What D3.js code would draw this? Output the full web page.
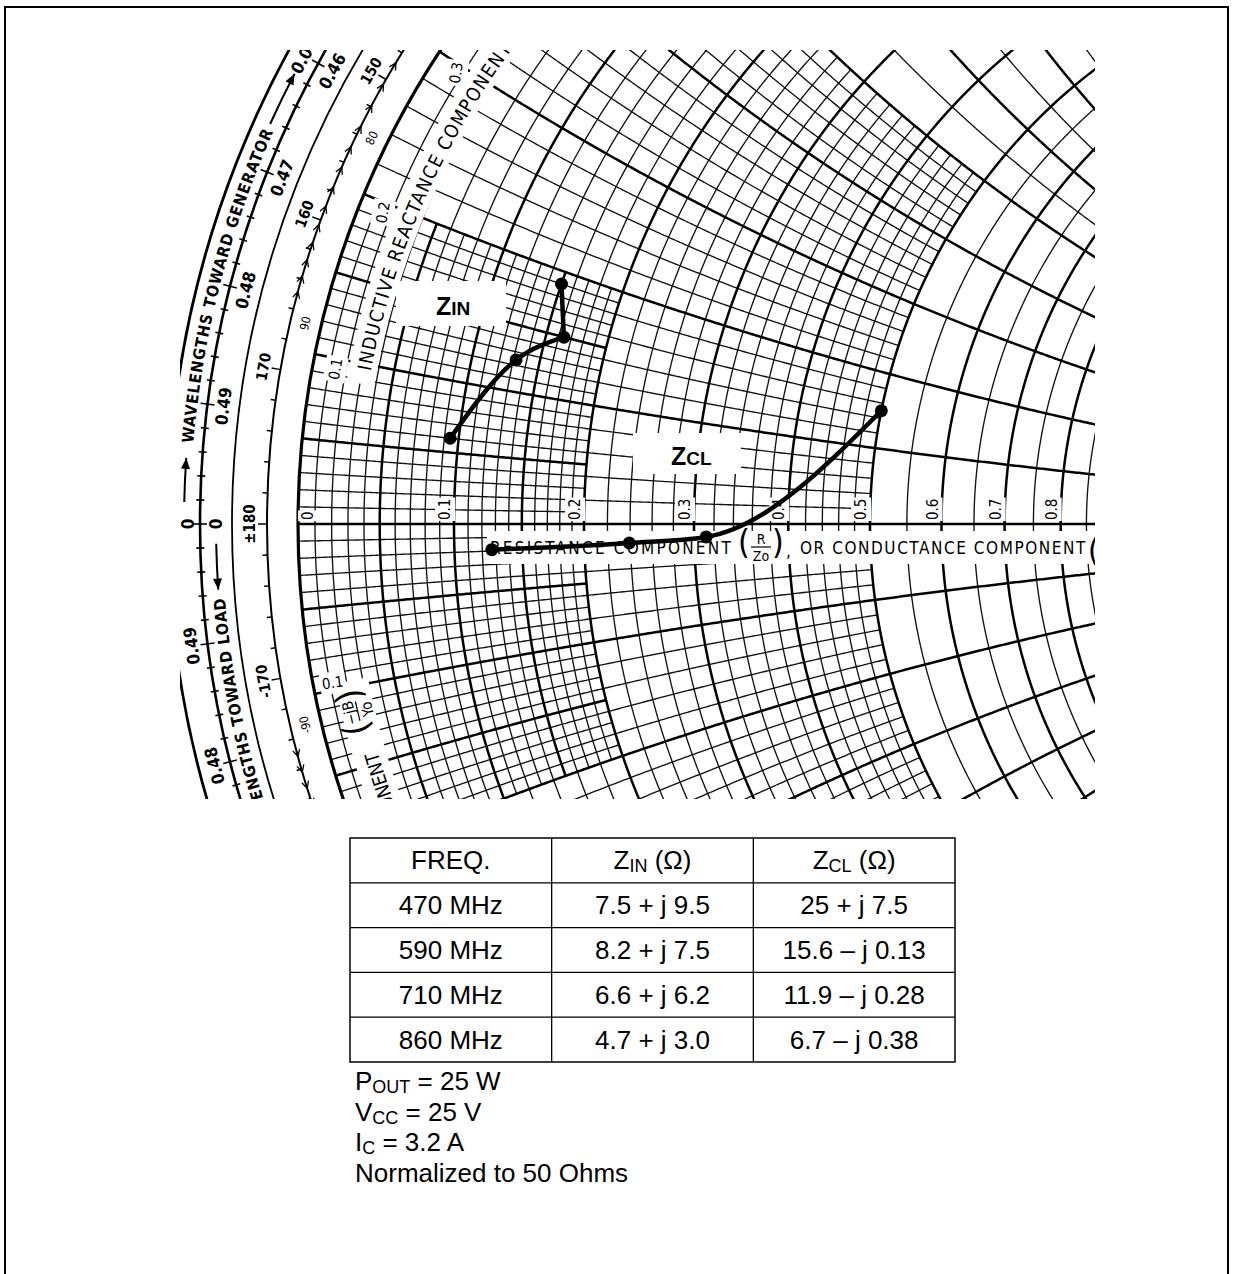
<!DOCTYPE html>
<html>
<head>
<meta charset="utf-8">
<title>Smith chart</title>
<script src="https://cdn.jsdelivr.net/npm/d3@7"></script>
<style>
  body { margin: 0; background: #fff; }
  svg { display: block; }
  .cond { font-family: "DejaVu Sans Condensed", "Liberation Sans Narrow", "DejaVu Sans", sans-serif; }
  .arial { font-family: "Liberation Sans", Arial, Helvetica, sans-serif; }
</style>
</head>
<body>
<script>
// table data
var freqs = ["470 MHz", "590 MHz", "710 MHz", "860 MHz"];
var zinText = ["7.5 + j 9.5", "8.2 + j 7.5", "6.6 + j 6.2", "4.7 + j 3.0"];
var zclText = ["25 + j 7.5", "15.6 \u2013 j 0.13", "11.9 \u2013 j 0.28", "6.7 \u2013 j 0.38"];

// points as plotted on the chart (normalized to 50 ohms)
var zinR = [0.15, 0.164, 0.132, 0.094];
var zinX = [0.19, 0.15, 0.124, 0.06];
var zclR = [0.5, 0.312, 0.239, 0.127];
var zclX = [0.15, -0.013, -0.017, -0.019];

// chart labels
var rAxisLabels = [0, 0.1, 0.2, 0.3, 0.4, 0.5, 0.6, 0.7, 0.8];
var xRimLabels = [0.1, 0.2, 0.3, -0.1];
var reflLabels = ["\u00b1180", "170", "160", "150", "-170", "-160"];
var reflAngles = [180, 170, 160, 150, -170, -160];
var transLabels = ["90", "80", "-90", "-80"];
var transAngles = [90, 80, -90, -80];
var loadLabels = ["0.49", "0.48", "0.47", "0.46"];
var loadWl = [0.49, 0.48, 0.47, 0.46];
var genLabels = ["0.04", "0.49", "0.48"];
var genWl = [0.04, 0.49, 0.48];

var notes = [["P", "OUT", " = 25 W"], ["V", "CC", " = 25 V"], ["I", "C", " = 3.2 A"], ["Normalized to 50 Ohms", "", ""]];

var W = 1233, H = 1274;
var CX = 1156, CY = 524, R = 858;
var R1 = 889, R2 = 924, R3 = 956, R4 = 988;

var svg = d3.select("body").append("svg").attr("width", W).attr("height", H);

// frame
svg.append("path")
    .attr("d", "M5,1274V7H1228V1274")
    .attr("fill", "none")
    .attr("stroke", "#000")
    .attr("stroke-width", 2);

var defs = svg.append("defs");
defs.append("clipPath").attr("id", "cc").append("rect")
    .attr("x", 180).attr("y", 50).attr("width", 915).attr("height", 749);

var chart = svg.append("g").attr("clip-path", "url(#cc)");

// reflection plane -> pixels
var gx = d3.scaleLinear().domain([-1, 1]).range([CX - R, CX + R]);
var gy = d3.scaleLinear().domain([-1, 1]).range([CY + R, CY - R]);
var line = d3.line().x(d => gx(d[0])).y(d => gy(d[1]));
var smooth = d3.line().x(d => gx(d[0])).y(d => gy(d[1])).curve(d3.curveMonotoneX);

function gamma(r, x) {
    var d = (r + 1) * (r + 1) + x * x;
    return [(r * r - 1 + x * x) / d, 2 * x / d];
}

// constant resistance arc between two reactances
function rArc(r, x1, x2) {
    var c = r / (1 + r), rho = 1 / (1 + r);
    var th = function (x) {
        var p = gamma(r, x);
        var t = Math.atan2(p[1], p[0] - c);
        return t < 0 ? t + 2 * Math.PI : t;
    };
    var t1 = x2 >= 1e5 ? 0 : th(x2);
    var t2 = x1 <= -1e5 ? 2 * Math.PI : th(x1);
    var n = Math.max(6, Math.ceil(rho * R * (t2 - t1) / 2));
    return d3.range(n + 1).map(function (k) {
        var t = t1 + (t2 - t1) * k / n;
        return [c + rho * Math.cos(t), rho * Math.sin(t)];
    });
}

// constant reactance arc between two resistances
function xArc(x, r1, r2) {
    var cy0 = 1 / x, rho = 1 / Math.abs(x);
    var p1 = gamma(r1, x), p2 = gamma(r2, x);
    var a1 = Math.atan2(p1[1] - cy0, p1[0] - 1);
    var a2 = Math.atan2(p2[1] - cy0, p2[0] - 1);
    var da = a2 - a1;
    if (da > Math.PI) da -= 2 * Math.PI;
    if (da < -Math.PI) da += 2 * Math.PI;
    var n = Math.max(6, Math.ceil(rho * R * Math.abs(da) / 2));
    return d3.range(n + 1).map(function (k) {
        var a = a1 + da * k / n;
        return [1 + rho * Math.cos(a), cy0 + rho * Math.sin(a)];
    });
}

// polar position at pixel radius, e = degrees above the left axis
function polar(rad, e) {
    var a = e * Math.PI / 180, rn = rad / R;
    return [gx(-rn * Math.cos(a)), gy(rn * Math.sin(a))];
}
function arcD(rad, e1, e2) {
    var p1 = polar(rad, e1), p2 = polar(rad, e2);
    var large = Math.abs(e2 - e1) > 180 ? 1 : 0;
    var sweep = e2 > e1 ? 1 : 0;
    return "M" + p1 + "A" + rad + "," + rad + " 0 " + large + " " + sweep + " " + p2;
}

// grid, classic hierarchy (values in hundredths)
var edges = [0, 20, 50, 100, 200, 500, 1000, 2000, 5000];
var steps = [1, 2, 5, 10, 20, 100, 200, 1000];
function band(v) { var i = steps.length - 1; while (v < edges[i]) i--; return i; }
function reach(v) {
    var i = band(v), j = 0;
    while (j < steps.length && (j <= i || v % steps[j] === 0)) j++;
    return j >= steps.length ? 1e6 : edges[j] / 100;
}
function heavy(v) {
    if (v < 20) return v % 5 === 0;
    if (v <= 100) return v % 10 === 0;
    if (v <= 200) return v % 20 === 0;
    return v % 100 === 0;
}
var gridVals = [];
for (var i = 0; i < 5; i++) {
    for (var v = edges[i]; v < edges[i + 1]; v += steps[i]) if (v > 0) gridVals.push(v);
}
var lightP = [], heavyP = [];
gridVals.forEach(function (v) {
    var ext = reach(v), r = v / 100, target = heavy(v) ? heavyP : lightP;
    target.push(rArc(r, -ext, ext));
    target.push(xArc(r, 0, ext));
    target.push(xArc(-r, 0, ext));
});

var gridG = chart.append("g").attr("fill", "none");
gridG.selectAll("path.lt").data(lightP).enter().append("path")
    .attr("class", "lt")
    .attr("d", line)
    .attr("stroke", "#111")
    .attr("stroke-width", 1.35);
gridG.selectAll("path.hv").data(heavyP).enter().append("path")
    .attr("class", "hv")
    .attr("d", line)
    .attr("stroke", "#000")
    .attr("stroke-width", 2.5);
// real axis
gridG.append("path")
    .attr("d", line([[-1, 0], [1, 0]]))
    .attr("stroke", "#000")
    .attr("stroke-width", 2.5);

// white bands behind texts
var bandArc = d3.arc();
chart.append("path")
    .attr("transform", "translate(" + gx(0) + "," + gy(0) + ")")
    .attr("d", bandArc({innerRadius: 794, outerRadius: 822, startAngle: (270 + 10) * Math.PI / 180, endAngle: (270 + 50) * Math.PI / 180}))
    .attr("fill", "#fff");
chart.append("path")
    .attr("transform", "translate(" + gx(0) + "," + gy(0) + ")")
    .attr("d", bandArc({innerRadius: 803, outerRadius: 836, startAngle: (270 - 50) * Math.PI / 180, endAngle: (270 - 11) * Math.PI / 180}))
    .attr("fill", "#fff");
chart.append("rect").attr("x", 487).attr("y", 531).attr("width", 620).attr("height", 33).attr("fill", "#fff");
chart.append("rect").attr("x", 396).attr("y", 281).attr("width", 110).attr("height", 45).attr("fill", "#fff");
chart.append("rect").attr("x", 633).attr("y", 433).attr("width", 108).attr("height", 41).attr("fill", "#fff");

// outer rings
var ringG = chart.append("g").attr("fill", "none").attr("stroke", "#000");
[[R, 3.2], [R1, 2], [R2, 1.8], [R3, 2.6], [R4, 2.8]].forEach(function (d) {
    ringG.append("circle").attr("cx", gx(0)).attr("cy", gy(0)).attr("r", d[0]).attr("stroke-width", d[1]);
});

// wavelength ticks
var tickG = chart.append("g").attr("stroke", "#000").attr("fill", "none");
d3.range(-45, 46).forEach(function (k) {
    var e = k * 1.44, L = k % 5 === 0 ? 7 : 4;
    var a = polar(R3 - L, e), b = polar(R3 + L, e);
    tickG.append("line").attr("x1", a[0]).attr("y1", a[1]).attr("x2", b[0]).attr("y2", b[1]).attr("stroke-width", 1.6);
});
// reflection angle ticks
d3.range(-60, 62, 2).forEach(function (e) {
    var L = e % 10 === 0 ? 9 : 5;
    var a = polar(R1, e), b = polar(R1 + L, e);
    tickG.append("line").attr("x1", a[0]).attr("y1", a[1]).attr("x2", b[0]).attr("y2", b[1]).attr("stroke-width", 1.5);
});
// transmission angle marks
function transElev(al) {
    var s = al < 0 ? -1 : 1, ar = Math.abs(al) * Math.PI / 180, rho = R1 / R;
    var t = Math.cos(ar) + Math.sqrt(Math.cos(ar) * Math.cos(ar) + rho * rho - 1);
    var px = -1 + t * Math.cos(ar), py = t * Math.sin(ar);
    return s * Math.atan2(py, -px) * 180 / Math.PI;
}
d3.range(60, 91).concat(d3.range(-90, -59)).forEach(function (al) {
    var e = transElev(al), a = e * Math.PI / 180, sg = e > 0 ? 1 : -1;
    var p = polar(R1, e);
    var t = [sg * Math.sin(a), -sg * Math.cos(a)], n = [-Math.cos(a), -Math.sin(a)];
    var b1 = [p[0] - 7 * t[0] + 3.5 * n[0], p[1] - 7 * t[1] + 3.5 * n[1]];
    var b2 = [p[0] - 7 * t[0] - 3.5 * n[0], p[1] - 7 * t[1] - 3.5 * n[1]];
    tickG.append("path").attr("d", "M" + b1 + "L" + p + "L" + b2).attr("stroke-width", 1.3);
});

// text helper
function tag(g, x, y, rot, txt, size, cls, anchor, bg, weight) {
    var gg = g.append("g").attr("transform", "translate(" + x + "," + y + ") rotate(" + rot + ")");
    var rc = gg.append("rect").attr("fill", "#fff");
    var t = gg.append("text")
        .attr("class", cls)
        .attr("font-size", size)
        .attr("font-weight", weight || "normal")
        .attr("text-anchor", anchor)
        .attr("dominant-baseline", "central")
        .attr("fill", "#000")
        .text(txt);
    if (bg) {
        var b = t.node().getBBox();
        rc.attr("x", b.x - bg).attr("y", b.y - bg).attr("width", b.width + 2 * bg).attr("height", b.height + 2 * bg);
    } else rc.remove();
    return t;
}
function ringTag(txt, rad, e, size, weight) {
    var p = polar(rad, e);
    return tag(chart, p[0], p[1], e - 90, txt, size, "cond", "middle", 0, weight);
}

reflLabels.forEach(function (s, i) {
    var a = reflAngles[i];
    var e = a > 0 ? 180 - a : -(180 + a);
    ringTag(s, 906, e, 15, "bold");
});
transLabels.forEach(function (s, i) {
    var e = transElev(transAngles[i]);
    ringTag(s, 874, e - (e > 0 ? 1.9 : -1.9), 12, "normal");
});
loadLabels.forEach(function (s, i) { ringTag(s, 940, (1 - loadWl[i]) * 720, 17, "bold"); });
genLabels.forEach(function (s, i) {
    var w = genWl[i];
    ringTag(s, 972, w < 0.25 ? w * 720 : -(0.5 - w) * 720, 17, "bold");
});
ringTag("0", 968, 0, 17, "bold");
ringTag("0", 940, 0, 17, "bold");

// arrows on the wavelength scales
function arcArrow(rad, e1, e2) {
    chart.append("path").attr("d", arcD(rad, e1, e2)).attr("fill", "none").attr("stroke", "#000").attr("stroke-width", 2);
    var a = e2 * Math.PI / 180, sg = e2 > e1 ? 1 : -1;
    var p = polar(rad, e2);
    var t = [sg * Math.sin(a), -sg * Math.cos(a)], n = [-Math.cos(a), -Math.sin(a)];
    var b1 = [p[0] - 11 * t[0] + 4.5 * n[0], p[1] - 11 * t[1] + 4.5 * n[1]];
    var b2 = [p[0] - 11 * t[0] - 4.5 * n[0], p[1] - 11 * t[1] - 4.5 * n[1]];
    chart.append("path").attr("d", "M" + p + "L" + b1 + "L" + b2 + "Z").attr("fill", "#000");
}
arcArrow(972, 1.3, 3.9);
arcArrow(972, 24.3, 27.6);
arcArrow(940, -1.2, -4.0);

// text along arcs, stretched to a target span
function arcText(id, rad, e1, e2, txt, size, weight, anchorEnd, fitTxt, fitLen) {
    defs.append("path").attr("id", id).attr("d", arcD(rad, e1, e2));
    var t = chart.append("text")
        .attr("class", "cond")
        .attr("font-size", size)
        .attr("font-weight", weight)
        .attr("fill", "#000");
    var probe = chart.append("text").attr("class", "cond").attr("font-size", size).attr("font-weight", weight).text(fitTxt);
    var w = probe.node().getComputedTextLength();
    probe.remove();
    var ls = (fitLen - w) / fitTxt.length;
    t.attr("letter-spacing", ls.toFixed(2));
    var tp = t.append("textPath").attr("href", "#" + id).text(txt);
    if (anchorEnd) tp.attr("startOffset", "100%").attr("text-anchor", "end");
    return ls;
}
var deg = Math.PI / 180;
arcText("genTxt", 966, 4.8, 40, "WAVELENGTHS TOWARD GENERATOR", 16, "bold", false, "WAVELENGTHS TOWARD GENERATOR", 19.2 * deg * 966);
arcText("loadTxt", 934, -40, -4.5, "WAVELENGTHS TOWARD LOAD", 16, "bold", true, "WAVELENGTHS TOWARD LOAD", 16.2 * deg * 934);
arcText("indTxt", 800, 11, 40, "INDUCTIVE REACTANCE COMPONENT", 19, "normal", false, "INDUCTIVE REACTANCE COMPONENT", 25.5 * deg * 800);
arcText("capTxt", 811, -40, -16.3, "SUSCEPTANCE COMPONENT", 19, "normal", true, "SUSCEPTANCE COMPONENT", 16.5 * deg * 811);

// fraction with parentheses
function fraction(x, y, rot, num, den, size) {
    var g = chart.append("g").attr("transform", "translate(" + x + "," + y + ") rotate(" + rot + ")").attr("class", "cond").attr("fill", "#000");
    g.append("text").attr("x", -17).attr("y", 7).attr("font-size", size * 2.4).attr("text-anchor", "middle").text("(");
    g.append("text").attr("x", 17).attr("y", 7).attr("font-size", size * 2.4).attr("text-anchor", "middle").text(")");
    g.append("text").attr("x", 0).attr("y", -3).attr("font-size", size).attr("text-anchor", "middle").text(num);
    g.append("line").attr("x1", -10).attr("x2", 10).attr("y1", 0).attr("y2", 0).attr("stroke", "#000").attr("stroke-width", 1.2);
    g.append("text").attr("x", 0).attr("y", size).attr("font-size", size).attr("text-anchor", "middle").text(den);
}
var fp = polar(820, -13.2);
fraction(fp[0], fp[1], -13.2 - 90, "\u2212jB", "Yo", 15);

// resistance text below the axis
var resT = chart.append("text").attr("class", "cond").attr("font-size", 17).attr("x", 490).attr("y", 554).text("RESISTANCE COMPONENT");
resT.attr("letter-spacing", ((243 - resT.node().getComputedTextLength()) / 20).toFixed(2));
fraction(761, 547, 0, "R", "Zo", 14);
chart.append("text").attr("class", "cond").attr("font-size", 17).attr("x", 786).attr("y", 557).text(",");
var conT = chart.append("text").attr("class", "cond").attr("font-size", 17).attr("x", 800).attr("y", 554).text("OR CONDUCTANCE COMPONENT");
conT.attr("letter-spacing", ((287 - conT.node().getComputedTextLength()) / 24).toFixed(2));
chart.append("text").attr("class", "cond").attr("font-size", 32).attr("x", 1088).attr("y", 561).text("(");

// axis labels
rAxisLabels.forEach(function (v) {
    var xl = gx(gamma(v, 0)[0]);
    tag(chart, v === 0 ? xl + 10 : xl - 9, CY - 4, -90, v === 0 ? "0" : v.toFixed(1), 15, "cond", "start", 1);
});
// reactance labels along the rim
xRimLabels.forEach(function (v) {
    var p = gamma(0.012, v);
    var up = v > 0;
    tag(chart, gx(p[0]) + (up ? 1 : -2), gy(p[1]) + (up ? 11 : -7), up ? -80 : -8, Math.abs(v).toFixed(1), 15, "cond", "middle", 2);
});

// Z labels
var zl = chart.append("text").attr("class", "arial").attr("font-weight", "bold").attr("x", 436).attr("y", 315);
zl.append("tspan").attr("font-size", 25).text("Z");
zl.append("tspan").attr("font-size", 19).text("IN");
var zc = chart.append("text").attr("class", "arial").attr("font-weight", "bold").attr("x", 671).attr("y", 465);
zc.append("tspan").attr("font-size", 25).text("Z");
zc.append("tspan").attr("font-size", 19).text("CL");

// measured curves
var zinPts = zinR.map(function (r, i) { return gamma(r, zinX[i]); });
var zclPts = zclR.map(function (r, i) { return gamma(r, zclX[i]); });
var curveG = chart.append("g").attr("fill", "none").attr("stroke", "#000").attr("stroke-width", 4.5).attr("stroke-linecap", "round");
curveG.append("path").attr("d", line(zinPts.slice(0, 2)));
curveG.append("path").attr("d", smooth(zinPts.slice(1).reverse()));
curveG.append("path").attr("d", smooth(zclPts.slice().reverse()));
chart.append("g").selectAll("circle").data(zinPts.concat(zclPts)).enter().append("circle")
    .attr("cx", d => gx(d[0]))
    .attr("cy", d => gy(d[1]))
    .attr("r", 6.5)
    .attr("fill", "#000");

// table
var colX = d3.scaleBand().domain(d3.range(3)).range([350, 955]);
var rowY = d3.scaleBand().domain(d3.range(5)).range([838, 1062]);
var tab = svg.append("g").attr("class", "arial");
tab.append("rect").attr("x", 350).attr("y", 838).attr("width", 605).attr("height", 224)
    .attr("fill", "none").attr("stroke", "#000").attr("stroke-width", 1.5);
[1, 2].forEach(function (c) {
    tab.append("line").attr("x1", colX(c)).attr("x2", colX(c)).attr("y1", 838).attr("y2", 1062).attr("stroke", "#000").attr("stroke-width", 1.3);
});
[1, 2, 3, 4].forEach(function (r) {
    tab.append("line").attr("x1", 350).attr("x2", 955).attr("y1", rowY(r)).attr("y2", rowY(r)).attr("stroke", "#000").attr("stroke-width", 1.3);
});
function cell(c, r) {
    return tab.append("text")
        .attr("x", colX(c) + colX.bandwidth() / 2)
        .attr("y", rowY(r) + rowY.bandwidth() / 2 + 9)
        .attr("text-anchor", "middle")
        .attr("font-size", 26)
        .attr("fill", "#000");
}
cell(0, 0).text("FREQ.");
[["IN", 1], ["CL", 2]].forEach(function (d) {
    var t = cell(d[1], 0);
    t.append("tspan").text("Z");
    t.append("tspan").attr("font-size", 18).attr("dy", 3).text(d[0]);
    t.append("tspan").attr("dy", -3).text(" (\u03a9)");
});
freqs.forEach(function (f, i) {
    cell(0, i + 1).text(f);
    cell(1, i + 1).text(zinText[i]);
    cell(2, i + 1).text(zclText[i]);
});

// notes
notes.forEach(function (n, i) {
    var t = svg.append("text").attr("class", "arial").attr("font-size", 26).attr("x", 355).attr("y", 1090 + i * 30.5).attr("fill", "#000");
    t.append("tspan").text(n[0]);
    if (n[1]) {
        t.append("tspan").attr("font-size", 18).attr("dy", 3).text(n[1]);
        t.append("tspan").attr("dy", -3).text(n[2]);
    }
});
</script>
</body>
</html>
